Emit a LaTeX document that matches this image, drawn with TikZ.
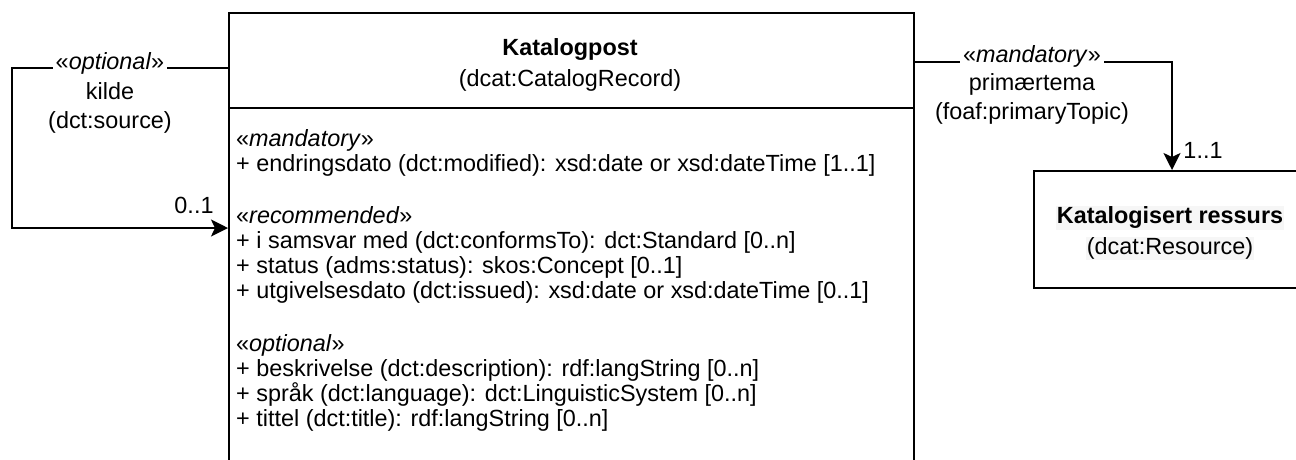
\documentclass[tikz,border=0pt]{standalone}
\usepackage{fontspec}
\setmainfont{Liberation Sans}
\usepackage{tikz}
\usetikzlibrary{arrows.meta}
\definecolor{labelbg}{HTML}{F6F6F6}
\newcommand{\umlstereo}[1]{«\textit{#1}»}
\tikzset{
  umlline/.style={line width=2pt},
  classbox/.style={draw,umlline,anchor=north west,inner sep=0pt},
  assoc/.style={umlline,-{Stealth[length=17pt,width=17pt,inset=4pt]}},
  compartment/.style={anchor=north west,align=left,inner sep=0pt,font=\fontsize{23.4}{25}\selectfont},
  stereolabel/.style={fill=white,inner xsep=3pt,inner ysep=0pt},
  rolename/.style={align=center,inner sep=0pt,font=\fontsize{23.4}{29}\selectfont},
  multiplicity/.style={inner sep=0pt}
}

\begin{document}
\begin{tikzpicture}[x=1pt,y=-1pt,font=\fontsize{23.4}{28}\selectfont]
    \useasboundingbox (0,0) rectangle (1296,459);
    \clip (0,0) rectangle (1296,459);
    % Katalogpost, cut off at the bottom edge
    \node[classbox,minimum width=685pt,minimum height=490pt] (kp) at (228,12) {};
    \draw[umlline] (kp.west |- 0,108) -- (kp.east |- 0,108);
    \node[align=center,inner sep=0pt,font=\fontsize{23.4}{31}\selectfont] (kp title) at (570,65)
      {\textbf{Katalogpost}\\(dcat:CatalogRecord)};
    \node[compartment] (kp mandatory) at (236,129.5)
      {\umlstereo{mandatory}\\
       + endringsdato (dct:modified): xsd:date or xsd:dateTime [1..1]};
    \node[compartment] (kp recommended) at (236,206.5)
      {\umlstereo{recommended}\\
       + i samsvar med (dct:conformsTo): dct:Standard [0..n]\\
       + status (adms:status): skos:Concept [0..1]\\
       + utgivelsesdato (dct:issued): xsd:date or xsd:dateTime [0..1]};
    \node[compartment] (kp optional) at (236,334.5)
      {\umlstereo{optional}\\
       + beskrivelse (dct:description): rdf:langString [0..n]\\
       + språk (dct:language): dct:LinguisticSystem [0..n]\\
       + tittel (dct:title): rdf:langString [0..n]};
    % Katalogisert ressurs, cut off at the right edge
    \node[classbox,minimum width=276pt,minimum height=117pt] (res) at (1033,170) {};
    \node[align=center,inner sep=0pt,font=\fontsize{23.4}{31}\selectfont] (res title) at (1170,233)
      {\setlength{\fboxsep}{1pt}\colorbox{labelbg}{\textbf{Katalogisert ressurs}}\\
       \setlength{\fboxsep}{1pt}\colorbox{labelbg}{(dcat:Resource)}};
    % kilde
    \draw[assoc] (kp.west |- 0,68) -- ++(-216,0) |- (kp.west |- 0,228);
    \node[stereolabel] (src stereo) at (110,63) {\umlstereo{optional}};
    \node[rolename] (src role) at (110,108) {kilde\\(dct:source)};
    \node[multiplicity] (src mult) at (194,205) {0..1};
    % primaertema
    \draw[assoc] (kp.east |- 0,62) -| (res.north);
    \node[stereolabel] (topic stereo) at (1032,56) {\umlstereo{mandatory}};
    \node[rolename] (topic role) at (1032,99) {primærtema\\(foaf:primaryTopic)};
    \node[multiplicity] (topic mult) at (1203,150) {1..1};
\end{tikzpicture}
\end{document}
